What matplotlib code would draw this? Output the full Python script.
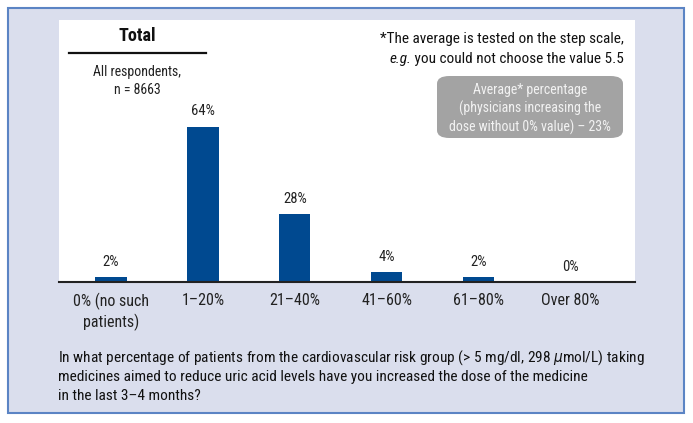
import matplotlib
matplotlib.use("Agg")
import matplotlib.pyplot as plt
from matplotlib.patches import Rectangle, FancyBboxPatch
from matplotlib.lines import Line2D

plt.rcParams['font.family'] = ['Roboto Condensed', 'DejaVu Sans Condensed', 'Liberation Sans Narrow', 'DejaVu Sans']
plt.rcParams['font.stretch'] = 'condensed'

categories = ["0% (no such\npatients)", "1\u201320%", "21\u201340%", "41\u201360%", "61\u201380%", "Over 80%"]
values = [2, 64, 28, 4, 2, 0]
value_labels = ["2%", "64%", "28%", "4%", "2%", "0%"]
question_lines = [
    "In what percentage of patients from the cardiovascular risk group (> 5 mg/dl, 298 $\\mu$mol/L) taking",
    "medicines aimed to reduce uric acid levels have you increased the dose of the medicine",
    "in the last 3\u20134 months?",
]

W, H = 693, 423
fig = plt.figure(figsize=(W / 100, H / 100), dpi=100)
fig.patch.set_facecolor("white")

def fx(px):
    return px / W

def fy(py):
    return 1 - py / H

# outer panel
fig.patches.append(Rectangle((fx(8), fy(413)), fx(684) - fx(8), fy(8) - fy(413),
                             transform=fig.transFigure, facecolor="#dadeed",
                             edgecolor="#5b84c4", linewidth=1.5, zorder=-5))

ax = fig.add_axes([fx(59), fy(282), fx(635) - fx(59), fy(20) - fy(282)])
ax.set_facecolor("white")
x = list(range(len(categories)))
ax.bar(x, values, width=0.34, color="#004990", zorder=2)
for xi, v, lab in zip(x, values, value_labels):
    ax.annotate(lab, (xi, v), xytext=(0, 6), textcoords="offset points",
                ha="center", va="bottom", fontsize=10.5, color="#222222")
ax.set_xlim(-0.565, 5.70)
ax.set_ylim(0, 108)
ax.set_yticks([])
ax.set_xticks(x)
ax.set_xticklabels(categories, fontsize=11.5, color="#222222", linespacing=1.25)
ax.tick_params(axis="x", length=0, pad=8)
for s in ["top", "right", "left"]:
    ax.spines[s].set_visible(False)
ax.spines["bottom"].set_linewidth(1.5)
ax.spines["bottom"].set_color("#222222")

# Title block
fig.text(fx(137), fy(36), "Total", ha="center", va="center", fontsize=13,
         fontweight="bold", color="#111111")
fig.add_artist(Line2D([fx(69), fx(206)], [fy(53), fy(53)], transform=fig.transFigure,
                      color="#111111", linewidth=1.6))
fig.text(fx(137), fy(81), "All respondents,\nn = 8663", ha="center", va="center",
         fontsize=10, color="#222222", linespacing=1.3)

# Footnote top right
fig.text(fx(624), fy(39), "*The average is tested on the step scale,", ha="right",
         va="center", fontsize=11, color="#111111")
t2 = fig.text(fx(624), fy(59), " you could not choose the value 5.5", ha="right",
              va="center", fontsize=11, color="#111111")
fig.canvas.draw()
bb = t2.get_window_extent()
fig.text(bb.x0 / W, fy(59), "e.g.", ha="right", va="center", fontsize=11,
         style="italic", color="#111111")

# Gray box
fig.patches.append(FancyBboxPatch((fx(437), fy(138)), fx(623) - fx(437), fy(76) - fy(138),
                                  boxstyle="round,pad=0,rounding_size=0.018",
                                  transform=fig.transFigure, facecolor="#a3a3a3",
                                  edgecolor="none", zorder=1))
fig.text(fx(530), fy(109), "Average* percentage\n(physicians increasing the\ndose without 0% value) \u2013 23%",
         ha="center", va="center", fontsize=10, color="#f2f2f2", linespacing=1.3, zorder=3)

# Question text
for i, line in enumerate(question_lines):
    fig.text(fx(58), fy(358 + 19 * i), line, ha="left", va="center",
             fontsize=11.1, color="#111111")

fig.savefig("out.png", dpi=100)
